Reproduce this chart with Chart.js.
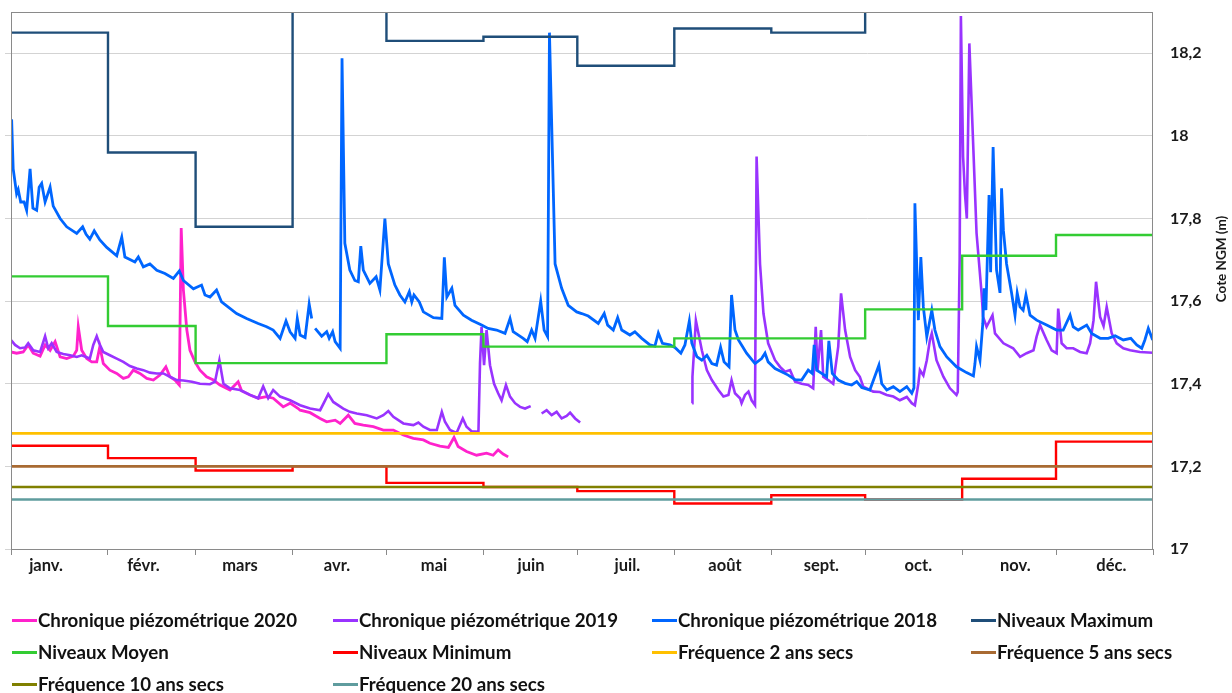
<!DOCTYPE html>
<html><head><meta charset="utf-8">
<script src="https://cdn.jsdelivr.net/npm/chart.js@4/dist/chart.umd.min.js"></script>
<style>
html,body{margin:0;padding:0;background:#fff;width:1232px;height:693px;overflow:hidden;font-family:Lato,'Open Sans',sans-serif;}
#wrap{position:absolute;left:0;top:0;width:1232px;height:590px;}
#legend{position:absolute;left:0;top:0;width:1232px;height:693px;pointer-events:none;}
.li{position:absolute;display:flex;align-items:center;height:22px;font-weight:bold;font-size:18.7px;color:#111;white-space:nowrap;}
.li .sw{display:inline-block;width:25px;height:3px;margin-right:1px;}
</style></head>
<body>
<div id="wrap"><canvas id="c" width="1232" height="590"></canvas></div>
<div id="legend"></div>
<script>
// ---- categories / ticks ----
const monthStarts = [0,31,59,90,120,151,181,212,243,273,304,334,365];
const monthLabels = ['janv.','févr.','mars','avr.','mai','juin','juil.','août','sept.','oct.','nov.','déc.'];
const monthLabelDays = [11.2,42.3,73.2,104.2,135.2,166.2,197.0,228.2,259.0,290.0,321.0,351.7];
const yTicks = [17,17.2,17.4,17.6,17.8,18,18.2];

// ---- monthly reference levels ----
const maxLevels  = [18.25,17.96,17.78,18.45,18.23,18.24,18.17,18.26,18.25,18.45,18.45,18.45];
const meanLevels = [17.66,17.54,17.45,17.45,17.52,17.49,17.49,17.51,17.51,17.58,17.71,17.76];
const minLevels  = [17.25,17.22,17.19,17.20,17.16,17.15,17.14,17.11,17.13,17.12,17.17,17.26];
const freq2 = 17.28, freq5 = 17.20, freq10 = 17.15, freq20 = 17.12;

// ---- chronique 2018 (day of year, level) ----
const d2018 = [0.2,0.7,1.8,2.3,3.1,4.2,5.0,6.1,7.0,8.2,9.0,9.8,10.9,12.5,13.5,15.7,17.8,21.0,22.9,24.0,25.2,26.6,28.4,30.6,33.8,35.4,36.4,39.6,40.7,42.3,44.4,46.6,49.2,51.9,53.8,55.1,58.3,60.9,62.0,63.6,65.7,67.3,72.1,75.3,79.0,81.7,83.8,86.0,87.9,89.2,90.8,91.5,92.4,94.0,95.3,96.1,96.6,97.2,99.3,100.9,101.7,102.8,103.6,105.2,105.8,106.7,108.3,109.9,111.0,111.8,112.6,114.7,116.7,117.9,119.5,120.6,122.7,124.3,125.9,127.3,128.1,128.8,130.5,131.8,135.0,137.7,138.5,139.3,140.9,141.9,144.6,147.2,150.4,152.5,155.2,157.9,159.5,160.5,163.7,165.0,166.4,167.5,169.3,170.4,171.5,172.1,173.9,176.0,178.1,180.8,182.4,184.5,187.7,189.6,190.7,192.5,193.9,195.2,197.8,199.4,201.6,204.2,205.8,206.9,208.2,210.6,212.2,214.1,215.4,216.8,217.6,219.2,220.8,222.4,224.0,225.5,226.8,227.9,229.5,230.3,231.4,232.5,233.5,235.1,237.8,239.9,241.0,242.0,244.2,246.3,248.4,250.6,252.7,254.8,256.1,256.7,257.5,259.1,260.7,261.4,262.5,264.4,266.6,268.7,270.3,271.9,274.5,277.4,278.3,279.9,282.0,284.1,286.3,287.9,288.6,288.9,290.0,290.8,291.6,292.7,294.3,295.3,296.9,299.1,302.2,305.4,307.6,308.1,308.6,309.7,310.6,311.0,311.6,312.6,313.1,313.9,315.0,316.1,316.6,317.2,318.2,319.8,320.9,321.6,322.5,323.5,324.4,325.7,327.8,331.0,334.2,336.3,338.5,339.5,341.1,343.8,345.4,348.1,350.7,352.9,355.5,357.9,359.8,361.4,362.4,363.5,364.9];
const v2018 = [18.04,17.92,17.86,17.87,17.84,17.84,17.82,17.92,17.825,17.82,17.876,17.885,17.84,17.876,17.83,17.80,17.78,17.764,17.78,17.762,17.75,17.77,17.748,17.73,17.71,17.755,17.707,17.695,17.707,17.683,17.69,17.675,17.667,17.655,17.673,17.65,17.63,17.639,17.615,17.61,17.627,17.598,17.57,17.558,17.546,17.538,17.53,17.51,17.552,17.526,17.51,17.558,17.518,17.512,17.593,17.558,null,17.534,17.515,17.526,17.51,17.526,17.502,17.486,18.188,17.74,17.675,17.65,17.647,17.733,17.675,17.643,17.659,17.627,17.80,17.69,17.639,17.615,17.598,17.623,17.598,17.615,17.598,17.574,17.56,17.558,17.706,17.61,17.631,17.59,17.566,17.554,17.542,17.534,17.53,17.522,17.558,17.526,17.51,17.502,17.53,17.51,17.60,17.53,17.514,18.25,17.69,17.631,17.59,17.574,17.57,17.564,17.546,17.57,17.542,17.53,17.56,17.53,17.518,17.526,17.51,17.494,17.491,17.523,17.498,17.494,17.488,17.474,17.494,17.552,17.498,17.466,17.457,17.469,17.449,17.445,17.488,17.453,17.441,17.615,17.53,17.506,17.494,17.474,17.449,17.461,17.474,17.453,17.437,17.429,17.421,17.41,17.409,17.433,17.425,17.494,17.433,17.425,17.417,17.504,17.425,17.409,17.401,17.397,17.405,17.391,17.385,17.445,17.40,17.385,17.393,17.381,17.393,17.377,17.39,17.837,17.554,17.707,17.586,17.514,17.578,17.53,17.49,17.465,17.441,17.427,17.419,17.449,17.49,17.457,17.546,17.631,17.578,17.857,17.67,17.973,17.675,17.62,17.873,17.77,17.69,17.62,17.566,17.62,17.586,17.578,17.615,17.566,17.554,17.542,17.53,17.53,17.566,17.538,17.53,17.542,17.522,17.51,17.51,17.516,17.506,17.51,17.494,17.486,17.506,17.534,17.506];

// ---- chronique 2019 ----
const d2019 = [0,1.3,2.9,4.5,5.5,7.1,9.3,10.9,11.9,13.0,14.6,16.7,18.9,21.0,22.6,25.2,26.3,27.4,28.2,29.5,31.6,33.8,35.9,38.0,40.2,42.3,44.4,46.6,48.7,50.8,53.0,55.1,57.8,60.4,63.6,65.2,66.6,67.9,70.0,73.2,76.4,79.0,80.6,82.2,83.8,86.0,89.2,92.4,95.6,98.8,100.4,101.4,103.0,106.2,108.3,110.5,113.7,116.9,119.0,120.6,122.2,125.4,128.6,130.2,131.8,133.9,136.1,137.7,138.7,140.3,142.4,144.4,145.6,147.2,149.4,149.9,150.4,151.2,152.0,153.1,154.4,155.7,156.8,158.2,159.5,161.1,162.7,164.3,166.1,167.0,169.6,171.2,172.8,174.4,176.0,177.6,178.7,180.3,181.9,185,217.7,217.8,218.9,220.8,222.4,224.0,226.1,227.7,229.3,230.3,231.4,233.0,233.5,234.6,235.7,236.7,237.8,238.3,239.4,240.5,242.0,244.2,245.8,247.4,249.0,250.6,252.7,254.8,256.4,257.2,257.8,258.9,259.6,261.2,262.8,264.4,265.3,266.6,268.2,269.8,271.3,272.4,275.6,277.7,279.9,282.0,284.1,286.3,287.9,288.9,290.0,290.5,291.6,292.7,293.7,294.3,295.8,298.0,300.1,302.2,302.6,303.2,303.6,304.3,304.9,305.5,306.3,307.6,308.6,310.2,310.7,311.8,313.7,314.5,317.2,320.3,322.5,324.6,326.8,327.8,328.9,331.0,332.6,334.2,334.7,335.8,337.4,339.5,341.7,343.8,344.9,346.0,346.8,348.1,349.2,350.2,351.8,353.4,355.5,357.7,360.8,364.9];
const v2019 = [17.506,17.494,17.486,17.488,17.498,17.481,17.477,17.515,17.486,17.498,17.477,17.472,17.469,17.465,17.469,17.461,17.494,17.515,17.498,17.477,17.469,17.461,17.453,17.443,17.437,17.433,17.427,17.425,17.425,17.417,17.409,17.408,17.405,17.40,17.399,17.405,17.457,17.40,17.389,17.385,17.373,17.365,17.394,17.365,17.385,17.369,17.36,17.348,17.34,17.336,17.36,17.375,17.356,17.34,17.332,17.328,17.324,17.316,17.324,17.334,17.32,17.304,17.30,17.306,17.296,17.288,17.288,17.332,17.308,17.288,17.281,17.316,17.296,17.285,17.284,17.449,17.538,17.445,17.53,17.445,17.40,17.377,17.36,17.397,17.369,17.353,17.344,17.34,17.346,null,17.328,17.336,17.324,17.332,17.316,17.322,17.33,17.316,17.306,null,17.353,17.417,17.553,17.481,17.433,17.409,17.385,17.369,17.373,17.409,17.377,17.365,17.353,17.373,17.381,17.36,17.348,17.95,17.69,17.57,17.498,17.457,17.441,17.429,17.433,17.405,17.40,17.397,17.389,17.538,17.433,17.53,17.417,17.409,17.40,17.49,17.619,17.53,17.465,17.433,17.417,17.393,17.381,17.38,17.373,17.369,17.36,17.368,17.353,17.348,17.40,17.433,17.42,17.457,17.506,17.522,17.457,17.417,17.389,17.373,17.38,17.70,18.29,17.95,17.86,17.80,18.224,17.965,17.765,17.62,17.562,17.538,17.566,17.522,17.498,17.486,17.465,17.474,17.481,17.514,17.542,17.506,17.481,17.474,17.582,17.498,17.486,17.486,17.477,17.474,17.498,17.554,17.647,17.562,17.54,17.586,17.522,17.498,17.486,17.481,17.477,17.475];

// ---- chronique 2020 ----
const d2020 = [0,1.8,3.9,5.5,7.1,9.3,10.9,12.5,14.1,15.7,17.8,19.9,21.0,21.5,22.6,24.2,25.8,27.4,28.4,29.5,31.6,33.8,35.9,37.5,39.1,41.2,43.4,45.5,47.6,49.5,50.8,52.4,53.8,54.4,55.1,56.2,57.2,58.8,60.4,62.5,64.7,66.8,70.0,72.6,73.7,76.4,79.0,81.7,83.8,87.0,89.2,91.8,92.4,95.6,98.8,100.9,103.6,105.2,107.8,109.9,112.6,115.8,119.0,122.2,125.4,128.6,131.8,133.9,137.1,139.8,141.6,142.9,145.6,148.8,152.0,154.1,155.7,157.3,158.9];
const v2020 = [17.477,17.474,17.477,17.494,17.474,17.467,17.494,17.481,17.502,17.465,17.461,17.467,17.481,17.538,17.481,17.461,17.453,17.453,17.49,17.449,17.433,17.425,17.413,17.417,17.433,17.425,17.413,17.409,17.421,17.441,17.417,17.409,17.397,17.777,17.627,17.53,17.481,17.453,17.433,17.417,17.409,17.397,17.385,17.405,17.383,17.373,17.365,17.369,17.365,17.344,17.353,17.34,17.336,17.33,17.316,17.308,17.312,17.304,17.324,17.304,17.30,17.296,17.288,17.288,17.276,17.268,17.264,17.256,17.249,17.246,17.27,17.248,17.236,17.227,17.232,17.227,17.24,17.23,17.223];

// ---- helpers ----
const pts = (ds, vs) => ds.map((d, i) => ({x: d, y: vs[i]}));
const steps = lv => monthStarts.map((d, i) => ({x: d, y: lv[Math.min(i, 11)]}));
const flat = v => [{x: 0, y: v}, {x: 365, y: v}];

const series = [
  {label:'Chronique piézométrique 2020', color:'#ff22cc', data:pts(d2020,v2020), w:2.8},
  {label:'Chronique piézométrique 2019', color:'#9933ff', data:pts(d2019,v2019), w:2.6},
  {label:'Chronique piézométrique 2018', color:'#0066ff', data:pts(d2018,v2018), w:2.8},
  {label:'Niveaux Maximum', color:'#1f4e79', data:steps(maxLevels), w:2.4, step:true},
  {label:'Niveaux Moyen', color:'#33cc33', data:steps(meanLevels), w:2.4, step:true},
  {label:'Niveaux Minimum', color:'#ff0000', data:steps(minLevels), w:2.4, step:true},
  {label:'Fréquence 2 ans secs', color:'#ffc000', data:flat(freq2), w:2.6},
  {label:'Fréquence 5 ans secs', color:'#a86a32', data:flat(freq5), w:2.6},
  {label:'Fréquence 10 ans secs', color:'#808000', data:flat(freq10), w:2.6},
  {label:'Fréquence 20 ans secs', color:'#5f9c9e', data:flat(freq20), w:2.6}
];

const datasets = series.map((s, i) => ({
  label: s.label, data: s.data, borderColor: s.color, backgroundColor: s.color,
  borderWidth: s.w, pointRadius: 0, fill: false, tension: 0,
  stepped: s.step ? 'before' : false, spanGaps: false, order: 20 - i
}));

const fmt = v => (Math.round(v * 10) / 10).toString().replace('.', ',');

const framePlugin = {
  id: 'frame',
  afterDatasetsDraw(chart) {
    const {ctx, chartArea: a} = chart;
    ctx.save();
    ctx.strokeStyle = '#8a8a8a';
    ctx.lineWidth = 1;
    ctx.strokeRect(a.left + 0.5, a.top + 0.5, a.right - a.left - 1, a.bottom - a.top);
    ctx.restore();
  },
  afterDraw(chart) {
    const ctx = chart.ctx;
    ctx.save();
    ctx.translate(1222, 259);
    ctx.rotate(-Math.PI / 2);
    ctx.fillStyle = '#1a1a1a';
    ctx.font = 'bold 13.5px Lato';
    ctx.textAlign = 'center';
    ctx.textBaseline = 'middle';
    ctx.fillText('Cote NGM (m)', 0, 0);
    ctx.restore();
  }
};

new Chart(document.getElementById('c'), {
  type: 'line',
  data: {datasets},
  options: {
    responsive: false, animation: false, events: [],
    layout: {padding: {left: 0, top: 12, right: 0, bottom: 0}},
    plugins: {legend: {display: false}, tooltip: {enabled: false}},
    scales: {
      x: {
        type: 'linear', min: 0, max: 365, position: 'bottom',
        afterBuildTicks: s => {
          s.ticks = monthStarts.concat(monthLabelDays).sort((a, b) => a - b).map(v => ({value: v}));
        },
        afterFit: s => { s.height = 41; },
        ticks: {
          autoSkip: false, maxRotation: 0, minRotation: 0, padding: 1, color: '#1a1a1a',
          font: {family: 'Lato', size: 16.5, weight: 'bold'},
          callback: v => { const i = monthLabelDays.indexOf(v); return i >= 0 ? monthLabels[i] : ''; }
        },
        grid: {
          drawOnChartArea: false, tickLength: 6, lineWidth: 1,
          color: c => (c.tick && monthStarts.includes(c.tick.value)) ? '#8a8a8a' : 'rgba(0,0,0,0)'
        },
        border: {display: false}
      },
      yL: {
        type: 'linear', position: 'left', min: 17, max: 18.3,
        afterBuildTicks: s => { s.ticks = yTicks.map(v => ({value: v})); },
        afterFit: s => { s.width = 11; },
        ticks: {display: false},
        grid: {color: '#d3d3d3', lineWidth: 1, tickLength: 6},
        border: {display: false}
      },
      y: {
        type: 'linear', position: 'right', min: 17, max: 18.3,
        afterBuildTicks: s => { s.ticks = yTicks.map(v => ({value: v})); },
        afterFit: s => { s.width = 79; },
        ticks: {padding: 2, color: '#1a1a1a', font: {family: 'Lato', size: 16, weight: 'bold'}, callback: v => fmt(v)},
        grid: {display: true, drawOnChartArea: false, drawTicks: true, tickLength: 15, color: 'rgba(0,0,0,0)'},
        border: {display: false}
      }
    }
  },
  plugins: [framePlugin]
});

// ---- legend (HTML) ----
const legCols = [12, 333, 652, 971];
const legRows = [620, 652, 684];
const leg = document.getElementById('legend');
series.forEach((s, i) => {
  const el = document.createElement('div');
  el.className = 'li';
  el.style.left = legCols[i % 4] + 'px';
  el.style.top = (legRows[Math.floor(i / 4)] - 11) + 'px';
  const sw = document.createElement('span');
  sw.className = 'sw';
  sw.style.background = s.color;
  el.appendChild(sw);
  el.appendChild(document.createTextNode(s.label));
  leg.appendChild(el);
});
</script>
</body></html>
